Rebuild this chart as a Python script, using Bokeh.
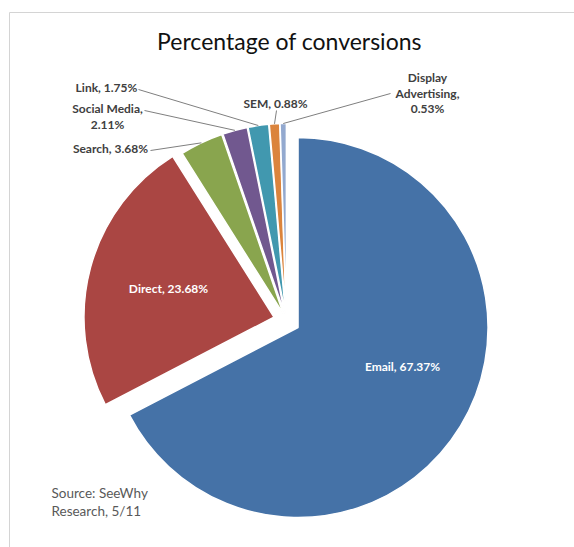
import numpy as np
from bokeh.plotting import figure
from bokeh.models import Range1d, ColumnDataSource
from bokeh.core.properties import value
from bokeh.embed import file_html
from bokeh.resources import INLINE

# ---------------- data ----------------
categories = ["Email", "Direct", "Search", "Social Media", "Link", "SEM", "Display Advertising"]
percentages = [67.37, 23.68, 3.68, 2.11, 1.75, 0.88, 0.53]
label_lines = [["Email, 67.37%"], ["Direct, 23.68%"], ["Search, 3.68%"],
               ["Social Media,", "2.11%"], ["Link, 1.75%"], ["SEM, 0.88%"],
               ["Display", "Advertising,", "0.53%"]]
colors = ["#4572A7", "#AA4643", "#89A54E", "#71588F", "#4198AF", "#DB843D", "#93A9CF"]
title_text = "Percentage of conversions"
source_lines = ["Source: SeeWhy", "Research, 5/11"]

# ---------------- layout (screen px, y down) ----------------
W, H = 574, 547
def sy(y):
    return H - y

CX, CY, R = 286, 320, 190
explode = [13.5, 13, 7, 7, 7, 7, 7]
label_pos = [(402, 366), (168, 288), (110, 148), (107, 108), (106, 87), (275, 103), (427, 77)]
leader_from = [None, None, (150, 150), (144, 110), (138, 89), (276, 110), (390, 93)]
inside = [True, True, False, False, False, False, False]
line_gap = 15.5

# ---------------- geometry from data ----------------
vals = np.array(percentages, dtype=float)
fr = vals / vals.sum()
cum_end = np.cumsum(fr)
cum_start = cum_end - fr
cum_mid = (cum_start + cum_end) / 2

start_math = np.pi / 2 - 2 * np.pi * cum_start
end_math = np.pi / 2 - 2 * np.pi * cum_end
mid_math = np.pi / 2 - 2 * np.pi * cum_mid

xs = CX + np.array(explode) * np.cos(mid_math)
ys = sy(CY) + np.array(explode) * np.sin(mid_math)

src = ColumnDataSource(dict(x=xs, y=ys, start=end_math, end=start_math,
                            color=colors, cat=categories))

p = figure(width=W, height=H, x_range=Range1d(0, W), y_range=Range1d(0, H),
           output_backend="svg", toolbar_location=None, min_border=0,
           x_axis_type=None, y_axis_type=None)
p.grid.visible = False
p.outline_line_color = None
p.background_fill_color = "white"
p.border_fill_color = "white"

# frame lines
p.segment(x0=[9, 9], y0=[sy(12), sy(12)], x1=[W, 9], y1=[sy(12), 0],
          line_color="#d4d4d4", line_width=1)

p.wedge(x="x", y="y", radius=R, start_angle="start", end_angle="end",
        fill_color="color", line_color="white", line_width=1.5, source=src)

# leader lines: from label to arc point at mid angle
lx0, ly0, lx1, ly1 = [], [], [], []
for i in range(len(categories)):
    if leader_from[i] is None:
        continue
    ax = xs[i] + R * np.cos(mid_math[i])
    ay = ys[i] + R * np.sin(mid_math[i])
    fx, fy = leader_from[i]
    lx0.append(fx); ly0.append(sy(fy)); lx1.append(ax); ly1.append(ay)
p.segment(x0=lx0, y0=ly0, x1=lx1, y1=ly1, line_color="#7f7f7f", line_width=1)

# labels
tx, ty, tt, tc = [], [], [], []
for i in range(len(categories)):
    x0, y0 = label_pos[i]
    for j, ln in enumerate(label_lines[i]):
        tx.append(x0); ty.append(sy(y0 + j * line_gap)); tt.append(ln)
        tc.append("white" if inside[i] else "#404040")
p.text(x=tx, y=ty, text=tt, text_color=tc, text_font=value("Lato"),
       text_font_size=value("12px"), text_font_style="bold",
       text_align="center", text_baseline="middle")

# title
p.text(x=[289], y=[sy(40)], text=[title_text], text_font=value("Lato"),
       text_font_size=value("23px"), text_color="#111111",
       text_align="center", text_baseline="middle")

# source
p.text(x=[51, 51], y=[sy(492), sy(510)], text=source_lines, text_font=value("Lato"),
       text_font_size=value("13.5px"), text_color="#595959",
       text_align="left", text_baseline="middle")

open("out.html", "w").write(file_html(p, INLINE))
